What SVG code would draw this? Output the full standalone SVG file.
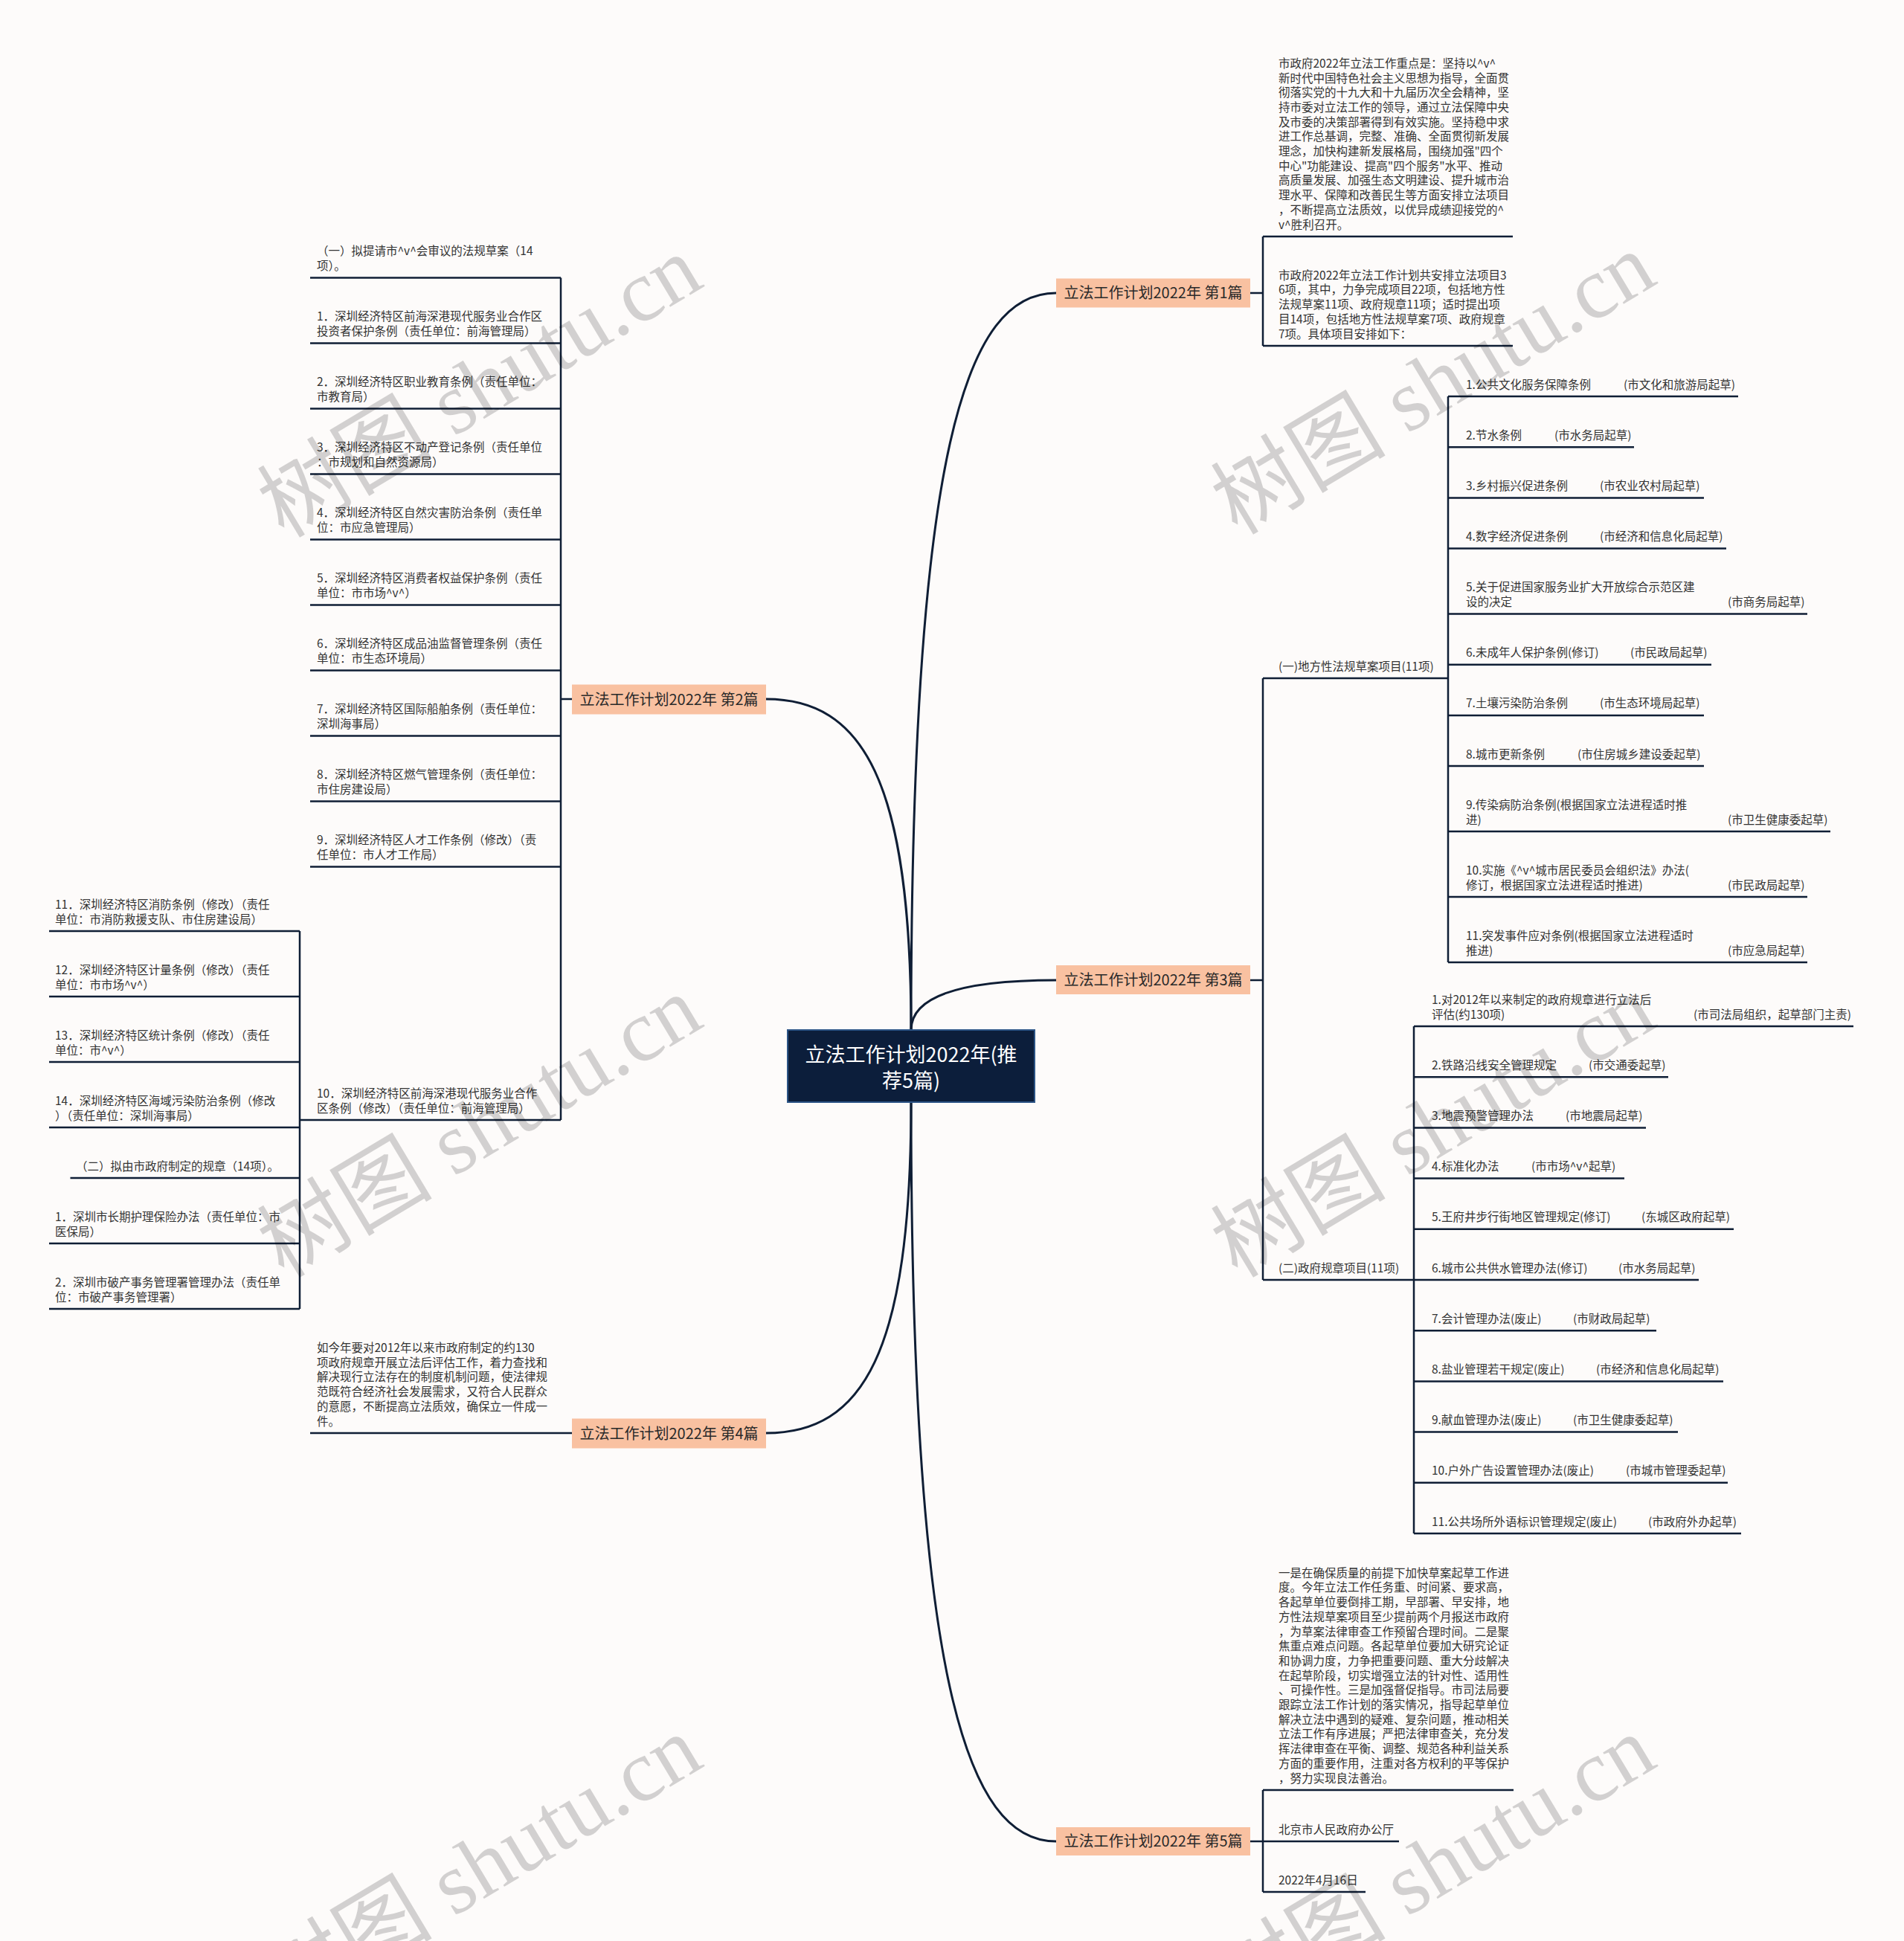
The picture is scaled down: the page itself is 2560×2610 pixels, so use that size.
<svg xmlns="http://www.w3.org/2000/svg" width="2560" height="2610" viewBox="0 0 2560 2610">
<style>
.t{font-family:"Noto Sans CJK SC","Noto Sans",sans-serif;font-size:15.5px;fill:#333}
.b{font-family:"Noto Sans CJK SC","Noto Sans",sans-serif;font-size:20px;fill:#2a2a2a;text-anchor:middle}
.c{font-family:"Noto Sans CJK SC","Noto Sans",sans-serif;font-size:27px;fill:#fff;text-anchor:middle}
.ln{stroke:#0f1e35;stroke-width:2.5;fill:none}
.cv{stroke:#0f1e35;stroke-width:3;fill:none}
.br{fill:#f9c1a1}
.wm{font-family:"Liberation Serif","Noto Sans CJK SC",serif;font-size:118px;fill:#000;fill-opacity:0.17}
</style>
<rect width="2560" height="2610" fill="#fdfbfa"/>

<g id="connectors">
<path class="cv" d="M1225 1385 C1225 600 1300 394 1420 394"/>
<path class="cv" d="M1225 1385 C1225 1050 1160 940 1030 940"/>
<path class="cv" d="M1225 1385 C1225 1340 1290 1318 1420 1318"/>
<path class="cv" d="M1225 1481 C1225 1820 1160 1927 1030 1927"/>
<path class="cv" d="M1225 1481 C1225 2260 1300 2476 1420 2476"/>
<path class="ln" d="M1681 394H1698M1698 318V465"/>
<path class="ln" d="M1681 1318H1698M1698 912V1721"/>
<path class="ln" d="M1947 533V1294"/>
<path class="ln" d="M1901 1380V2062"/>
<path class="ln" d="M1681 2476H1698M1698 2407V2544"/>
<path class="ln" d="M769 940H754M754 373.5V1506"/>
<path class="ln" d="M403 1252V1760"/>
</g>

<g id="center">
<rect x="1059" y="1385" width="332" height="97" fill="#0c1e3b" stroke="#2c5486" stroke-width="2"/>
<text class="c"><tspan x="1225" y="1428">立法工作计划2022年(推</tspan><tspan x="1225" y="1463">荐5篇)</tspan></text>
</g>

<g id="b1"><rect class="br" x="1420" y="374.5" width="261" height="39"/><text class="b" x="1550.5" y="401">立法工作计划2022年 第1篇</text></g>
<g id="b2"><rect class="br" x="769" y="920.5" width="261" height="40"/><text class="b" x="899.5" y="947.5">立法工作计划2022年 第2篇</text></g>
<g id="b3"><rect class="br" x="1420" y="1298" width="261" height="39"/><text class="b" x="1550.5" y="1324.5">立法工作计划2022年 第3篇</text></g>
<g id="b4"><rect class="br" x="769" y="1907.5" width="261" height="40"/><text class="b" x="899.5" y="1934.5">立法工作计划2022年 第4篇</text></g>
<g id="b5"><rect class="br" x="1420" y="2457" width="261" height="38"/><text class="b" x="1550.5" y="2483">立法工作计划2022年 第5篇</text></g>

<g id="n1a">
<text class="t"><tspan x="1719" y="90.8">市政府2022年立法工作重点是：坚持以^v^</tspan><tspan x="1719" y="110.5">新时代中国特色社会主义思想为指导，全面贯</tspan><tspan x="1719" y="130.2">彻落实党的十九大和十九届历次全会精神，坚</tspan><tspan x="1719" y="149.9">持市委对立法工作的领导，通过立法保障中央</tspan><tspan x="1719" y="169.6">及市委的决策部署得到有效实施。坚持稳中求</tspan><tspan x="1719" y="189.3">进工作总基调，完整、准确、全面贯彻新发展</tspan><tspan x="1719" y="209">理念，加快构建新发展格局，围绕加强"四个</tspan><tspan x="1719" y="228.7">中心"功能建设、提高"四个服务"水平、推动</tspan><tspan x="1719" y="248.4">高质量发展、加强生态文明建设、提升城市治</tspan><tspan x="1719" y="268.1">理水平、保障和改善民生等方面安排立法项目</tspan><tspan x="1719" y="287.8">，不断提高立法质效，以优异成绩迎接党的^</tspan><tspan x="1719" y="307.5">v^胜利召开。</tspan></text>
<path class="ln" d="M1698 318H2034"/>
</g>
<g id="n1b">
<text class="t"><tspan x="1719" y="375.7">市政府2022年立法工作计划共安排立法项目3</tspan><tspan x="1719" y="395.4">6项，其中，力争完成项目22项，包括地方性</tspan><tspan x="1719" y="415.1">法规草案11项、政府规章11项；适时提出项</tspan><tspan x="1719" y="434.8">目14项，包括地方性法规草案7项、政府规章</tspan><tspan x="1719" y="454.5">7项。具体项目安排如下：</tspan></text>
<path class="ln" d="M1698 465H2034"/>
</g>

<g id="n3a"><text class="t" x="1719" y="901.5">(一)地方性法规草案项目(11项)</text><path class="ln" d="M1698 912H1947"/></g>
<g id="n3b"><text class="t" x="1719" y="1710.5">(二)政府规章项目(11项)</text><path class="ln" d="M1698 1721H1901"/></g>

<g id="a1"><text class="t"><tspan x="1971" y="522.5">1.公共文化服务保障条例</tspan><tspan x="2183" y="522.5">(市文化和旅游局起草)</tspan></text><path class="ln" d="M1947 533H2337"/></g>
<g id="a2"><text class="t"><tspan x="1971" y="590.7">2.节水条例</tspan><tspan x="2090" y="590.7">(市水务局起草)</tspan></text><path class="ln" d="M1947 601.2H2197"/></g>
<g id="a3"><text class="t"><tspan x="1971" y="658.9">3.乡村振兴促进条例</tspan><tspan x="2151" y="658.9">(市农业农村局起草)</tspan></text><path class="ln" d="M1947 669.4H2291"/></g>
<g id="a4"><text class="t"><tspan x="1971" y="727.1">4.数字经济促进条例</tspan><tspan x="2151" y="727.1">(市经济和信息化局起草)</tspan></text><path class="ln" d="M1947 737.6H2321"/></g>
<g id="a5"><text class="t"><tspan x="1971" y="795.3">5.关于促进国家服务业扩大开放综合示范区建</tspan><tspan x="1971" y="815">设的决定</tspan><tspan x="2323" y="815">(市商务局起草)</tspan></text><path class="ln" d="M1947 825.5H2430"/></g>
<g id="a6"><text class="t"><tspan x="1971" y="883.2">6.未成年人保护条例(修订)</tspan><tspan x="2192" y="883.2">(市民政局起草)</tspan></text><path class="ln" d="M1947 893.7H2301"/></g>
<g id="a7"><text class="t"><tspan x="1971" y="951.4">7.土壤污染防治条例</tspan><tspan x="2151" y="951.4">(市生态环境局起草)</tspan></text><path class="ln" d="M1947 961.9H2291"/></g>
<g id="a8"><text class="t"><tspan x="1971" y="1019.6">8.城市更新条例</tspan><tspan x="2121" y="1019.6">(市住房城乡建设委起草)</tspan></text><path class="ln" d="M1947 1030.1H2291"/></g>
<g id="a9"><text class="t"><tspan x="1971" y="1087.8">9.传染病防治条例(根据国家立法进程适时推</tspan><tspan x="1971" y="1107.5">进)</tspan><tspan x="2323" y="1107.5">(市卫生健康委起草)</tspan></text><path class="ln" d="M1947 1118H2461"/></g>
<g id="a10"><text class="t"><tspan x="1971" y="1175.8">10.实施《^v^城市居民委员会组织法》办法(</tspan><tspan x="1971" y="1195.5">修订，根据国家立法进程适时推进)</tspan><tspan x="2323" y="1195.5">(市民政局起草)</tspan></text><path class="ln" d="M1947 1206H2430"/></g>
<g id="a11"><text class="t"><tspan x="1971" y="1263.8">11.突发事件应对条例(根据国家立法进程适时</tspan><tspan x="1971" y="1283.5">推进)</tspan><tspan x="2323" y="1283.5">(市应急局起草)</tspan></text><path class="ln" d="M1947 1294H2430"/></g>

<g id="g1"><text class="t"><tspan x="1925" y="1349.8">1.对2012年以来制定的政府规章进行立法后</tspan><tspan x="1925" y="1369.5">评估(约130项)</tspan><tspan x="2277" y="1369.5">(市司法局组织，起草部门主责)</tspan></text><path class="ln" d="M1901 1380H2492"/></g>
<g id="g2"><text class="t"><tspan x="1925" y="1437.7">2.铁路沿线安全管理规定</tspan><tspan x="2136" y="1437.7">(市交通委起草)</tspan></text><path class="ln" d="M1901 1448.2H2243"/></g>
<g id="g3"><text class="t"><tspan x="1925" y="1505.9">3.地震预警管理办法</tspan><tspan x="2105" y="1505.9">(市地震局起草)</tspan></text><path class="ln" d="M1901 1516.4H2213"/></g>
<g id="g4"><text class="t"><tspan x="1925" y="1574.1">4.标准化办法</tspan><tspan x="2059" y="1574.1">(市市场^v^起草)</tspan></text><path class="ln" d="M1901 1584.6H2184"/></g>
<g id="g5"><text class="t"><tspan x="1925" y="1642.3">5.王府井步行街地区管理规定(修订)</tspan><tspan x="2207" y="1642.3">(东城区政府起草)</tspan></text><path class="ln" d="M1901 1652.8H2331"/></g>
<g id="g6"><text class="t"><tspan x="1925" y="1710.5">6.城市公共供水管理办法(修订)</tspan><tspan x="2176" y="1710.5">(市水务局起草)</tspan></text><path class="ln" d="M1901 1721H2284"/></g>
<g id="g7"><text class="t"><tspan x="1925" y="1778.7">7.会计管理办法(废止)</tspan><tspan x="2115" y="1778.7">(市财政局起草)</tspan></text><path class="ln" d="M1901 1789.2H2227"/></g>
<g id="g8"><text class="t"><tspan x="1925" y="1846.9">8.盐业管理若干规定(废止)</tspan><tspan x="2146" y="1846.9">(市经济和信息化局起草)</tspan></text><path class="ln" d="M1901 1857.4H2317"/></g>
<g id="g9"><text class="t"><tspan x="1925" y="1915.1">9.献血管理办法(废止)</tspan><tspan x="2115" y="1915.1">(市卫生健康委起草)</tspan></text><path class="ln" d="M1901 1925.6H2256"/></g>
<g id="g10"><text class="t"><tspan x="1925" y="1983.3">10.户外广告设置管理办法(废止)</tspan><tspan x="2186" y="1983.3">(市城市管理委起草)</tspan></text><path class="ln" d="M1901 1993.8H2323"/></g>
<g id="g11"><text class="t"><tspan x="1925" y="2051.5">11.公共场所外语标识管理规定(废止)</tspan><tspan x="2216" y="2051.5">(市政府外办起草)</tspan></text><path class="ln" d="M1901 2062H2341"/></g>

<g id="n5a">
<text class="t"><tspan x="1719" y="2120.7">一是在确保质量的前提下加快草案起草工作进</tspan><tspan x="1719" y="2140.4">度。今年立法工作任务重、时间紧、要求高，</tspan><tspan x="1719" y="2160.1">各起草单位要倒排工期，早部署、早安排，地</tspan><tspan x="1719" y="2179.8">方性法规草案项目至少提前两个月报送市政府</tspan><tspan x="1719" y="2199.5">，为草案法律审查工作预留合理时间。二是聚</tspan><tspan x="1719" y="2219.2">焦重点难点问题。各起草单位要加大研究论证</tspan><tspan x="1719" y="2238.9">和协调力度，力争把重要问题、重大分歧解决</tspan><tspan x="1719" y="2258.6">在起草阶段，切实增强立法的针对性、适用性</tspan><tspan x="1719" y="2278.3">、可操作性。三是加强督促指导。市司法局要</tspan><tspan x="1719" y="2298">跟踪立法工作计划的落实情况，指导起草单位</tspan><tspan x="1719" y="2317.7">解决立法中遇到的疑难、复杂问题，推动相关</tspan><tspan x="1719" y="2337.4">立法工作有序进展；严把法律审查关，充分发</tspan><tspan x="1719" y="2357.1">挥法律审查在平衡、调整、规范各种利益关系</tspan><tspan x="1719" y="2376.8">方面的重要作用，注重对各方权利的平等保护</tspan><tspan x="1719" y="2396.5">，努力实现良法善治。</tspan></text>
<path class="ln" d="M1698 2407H2035"/>
</g>
<g id="n5b"><text class="t" x="1719" y="2465.5">北京市人民政府办公厅</text><path class="ln" d="M1698 2476H1881"/></g>
<g id="n5c"><text class="t" x="1719" y="2533.5">2022年4月16日</text><path class="ln" d="M1698 2544H1836"/></g>

<g id="l0"><text class="t"><tspan x="426" y="343.3">（一）拟提请市^v^会审议的法规草案（14</tspan><tspan x="426" y="363">项）。</tspan></text><path class="ln" d="M417 373.5H754"/></g>
<g id="l1"><text class="t"><tspan x="426" y="431.3">1．深圳经济特区前海深港现代服务业合作区</tspan><tspan x="426" y="451">投资者保护条例（责任单位：前海管理局）</tspan></text><path class="ln" d="M417 461.5H754"/></g>
<g id="l2"><text class="t"><tspan x="426" y="519.3">2．深圳经济特区职业教育条例（责任单位：</tspan><tspan x="426" y="539">市教育局）</tspan></text><path class="ln" d="M417 549.5H754"/></g>
<g id="l3"><text class="t"><tspan x="426" y="607.3">3．深圳经济特区不动产登记条例（责任单位</tspan><tspan x="426" y="627">：市规划和自然资源局）</tspan></text><path class="ln" d="M417 637.5H754"/></g>
<g id="l4"><text class="t"><tspan x="426" y="695.3">4．深圳经济特区自然灾害防治条例（责任单</tspan><tspan x="426" y="715">位：市应急管理局）</tspan></text><path class="ln" d="M417 725.5H754"/></g>
<g id="l5"><text class="t"><tspan x="426" y="783.3">5．深圳经济特区消费者权益保护条例（责任</tspan><tspan x="426" y="803">单位：市市场^v^）</tspan></text><path class="ln" d="M417 813.5H754"/></g>
<g id="l6"><text class="t"><tspan x="426" y="871.3">6．深圳经济特区成品油监督管理条例（责任</tspan><tspan x="426" y="891">单位：市生态环境局）</tspan></text><path class="ln" d="M417 901.5H754"/></g>
<g id="l7"><text class="t"><tspan x="426" y="959.3">7．深圳经济特区国际船舶条例（责任单位：</tspan><tspan x="426" y="979">深圳海事局）</tspan></text><path class="ln" d="M417 989.5H754"/></g>
<g id="l8"><text class="t"><tspan x="426" y="1047.3">8．深圳经济特区燃气管理条例（责任单位：</tspan><tspan x="426" y="1067">市住房建设局）</tspan></text><path class="ln" d="M417 1077.5H754"/></g>
<g id="l9"><text class="t"><tspan x="426" y="1135.3">9．深圳经济特区人才工作条例（修改）（责</tspan><tspan x="426" y="1155">任单位：市人才工作局）</tspan></text><path class="ln" d="M417 1165.5H754"/></g>
<g id="l10"><text class="t"><tspan x="426" y="1475.8">10．深圳经济特区前海深港现代服务业合作</tspan><tspan x="426" y="1495.5">区条例（修改）（责任单位：前海管理局）</tspan></text><path class="ln" d="M403 1506H754"/></g>

<g id="s11"><text class="t"><tspan x="74" y="1221.8">11．深圳经济特区消防条例（修改）（责任</tspan><tspan x="74" y="1241.5">单位：市消防救援支队、市住房建设局）</tspan></text><path class="ln" d="M66 1252H403"/></g>
<g id="s12"><text class="t"><tspan x="74" y="1309.8">12．深圳经济特区计量条例（修改）（责任</tspan><tspan x="74" y="1329.5">单位：市市场^v^）</tspan></text><path class="ln" d="M66 1340H403"/></g>
<g id="s13"><text class="t"><tspan x="74" y="1397.8">13．深圳经济特区统计条例（修改）（责任</tspan><tspan x="74" y="1417.5">单位：市^v^）</tspan></text><path class="ln" d="M66 1428H403"/></g>
<g id="s14"><text class="t"><tspan x="74" y="1485.8">14．深圳经济特区海域污染防治条例（修改</tspan><tspan x="74" y="1505.5">）（责任单位：深圳海事局）</tspan></text><path class="ln" d="M66 1516H403"/></g>
<g id="s15"><text class="t" x="102" y="1573.5">（二）拟由市政府制定的规章（14项）。</text><path class="ln" d="M94.5 1584H403"/></g>
<g id="s16"><text class="t"><tspan x="74" y="1641.8">1．深圳市长期护理保险办法（责任单位：市</tspan><tspan x="74" y="1661.5">医保局）</tspan></text><path class="ln" d="M66 1672H403"/></g>
<g id="s17"><text class="t"><tspan x="74" y="1729.8">2．深圳市破产事务管理署管理办法（责任单</tspan><tspan x="74" y="1749.5">位：市破产事务管理署）</tspan></text><path class="ln" d="M66 1760H403"/></g>

<g id="n4a">
<text class="t"><tspan x="426" y="1818">如今年要对2012年以来市政府制定的约130</tspan><tspan x="426" y="1837.7">项政府规章开展立法后评估工作，着力查找和</tspan><tspan x="426" y="1857.4">解决现行立法存在的制度机制问题，使法律规</tspan><tspan x="426" y="1877.1">范既符合经济社会发展需求，又符合人民群众</tspan><tspan x="426" y="1896.8">的意愿，不断提高立法质效，确保立一件成一</tspan><tspan x="426" y="1916.5">件。</tspan></text>
<path class="ln" d="M417 1927H769"/>
</g>

<g id="watermarks">
<text class="wm" transform="translate(645 520) rotate(-31)" text-anchor="middle" dy="40">树图 shutu.cn</text>
<text class="wm" transform="translate(1927 516) rotate(-31)" text-anchor="middle" dy="40">树图 shutu.cn</text>
<text class="wm" transform="translate(645 1515) rotate(-31)" text-anchor="middle" dy="40">树图 shutu.cn</text>
<text class="wm" transform="translate(1927 1515) rotate(-31)" text-anchor="middle" dy="40">树图 shutu.cn</text>
<text class="wm" transform="translate(645 2510) rotate(-31)" text-anchor="middle" dy="40">树图 shutu.cn</text>
<text class="wm" transform="translate(1927 2510) rotate(-31)" text-anchor="middle" dy="40">树图 shutu.cn</text>
</g>
</svg>
